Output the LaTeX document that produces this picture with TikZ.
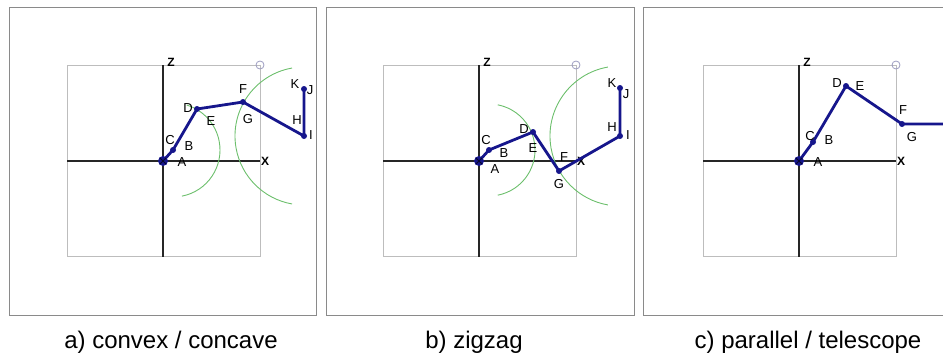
\documentclass[tikz,border=0pt]{standalone}
\usepackage{fontspec}
\setmainfont{Liberation Sans}
\usetikzlibrary{calc}
\definecolor{armblue}{HTML}{16168C}
\definecolor{reachgreen}{HTML}{6CBF6C}
\definecolor{boxgray}{HTML}{BDBDBD}
\definecolor{framegray}{HTML}{8A8A8A}
\definecolor{handlegray}{HTML}{9C9CC0}

\begin{document}
\begin{tikzpicture}[x=1pt,y=-1pt,
  panel/.style={draw=framegray,line width=1pt},
  workspace/.style={draw=boxgray,line width=0.9pt},
  axis/.style={draw=black!85,line width=1.3pt},
  link/.style={draw=armblue,line width=2.8pt,line join=round},
  joint/.style={fill=armblue},
  reach/.style={draw=reachgreen,line width=0.9pt},
  lbl/.style={font=\fontsize{13}{15}\selectfont,inner sep=0pt},
  axlbl/.style={font=\bfseries\fontsize{12}{14}\selectfont,inner sep=0pt},
  caption/.style={font=\fontsize{24}{28}\selectfont,inner sep=0pt}]
  \useasboundingbox (0,0) rectangle (943,356);
  \clip (0,0) rectangle (943,356);

  % Outer panels; the third one runs off the right edge.
  \draw[panel] (9,7) rectangle (316,315);
  \draw[panel] (326,7) rectangle (634,315);
  \draw[panel] (643,7) rectangle (970,315);

  % Workspace square, axes and corner handle, shared by all three panels.
  \foreach \ox/\p in {163/a,479/b,799/c} {
    \draw[workspace] (\ox-96,65) rectangle (\ox+97,256);
    \draw[axis] (\ox-96,161) -- (\ox+97,161);
    \draw[axis] (\ox,65) -- (\ox,257);
    \draw[handlegray,line width=0.8pt] (\ox+97,65) circle (4);
    \node[axlbl] (\p Z) at (\ox+8,62) {Z};
    \node[axlbl] (\p X) at (\ox+102,161) {X};
  }

  % a) convex / concave
  \coordinate (aA) at (163,161);
  \coordinate (aC) at (173,150);
  \coordinate (aD) at (197,109);
  \coordinate (aF) at (243,102);
  \coordinate (aI) at (304,136);
  \coordinate (aJ) at (304,89);
  \draw[reach] ($(aC)+(79:47)$) arc[start angle=79,end angle=-73,radius=47];
  \draw[reach] ($(aI)+(-100:69)$) arc[start angle=-100,end angle=-260,radius=69];
  \draw[link] (aA) -- (aC) -- (aD) -- (aF) -- (aI) -- (aJ);
  \foreach \j in {aC,aD,aF,aI,aJ} \fill[joint] (\j) circle (3);
  \fill[armblue] (aA) circle (5);
  \draw[black!70!armblue,line width=0.8pt] ($(aA)+(-3,-3)$) -- ($(aA)+(3,3)$)
    ($(aA)+(-3,3)$) -- ($(aA)+(3,-3)$);
  \node[lbl] (alA) at (182,162) {A};
  \node[lbl] (alB) at (189,146) {B};
  \node[lbl] (alC) at (170,140) {C};
  \node[lbl] (alD) at (188,108) {D};
  \node[lbl] (alE) at (211,121) {E};
  \node[lbl] (alF) at (243,89) {F};
  \node[lbl] (alG) at (248,119) {G};
  \node[lbl] (alH) at (297,120) {H};
  \node[lbl] (alI) at (311,135) {I};
  \node[lbl] (alK) at (295,84) {K};
  \node[lbl] (alJ) at (310,90) {J};

  % b) zigzag
  \coordinate (bA) at (479,161);
  \coordinate (bC) at (489,150);
  \coordinate (bD) at (533,132);
  \coordinate (bG) at (559,171);
  \coordinate (bI) at (620,136);
  \coordinate (bJ) at (620,88);
  \draw[reach] ($(bC)+(79:46)$) arc[start angle=79,end angle=-79,radius=46];
  \draw[reach] ($(bI)+(-100:70)$) arc[start angle=-100,end angle=-260,radius=70];
  \draw[link] (bA) -- (bC) -- (bD) -- (bG) -- (bI) -- (bJ);
  \foreach \j in {bC,bD,bG,bI,bJ} \fill[joint] (\j) circle (3);
  \fill[armblue] (bA) circle (5);
  \draw[black!70!armblue,line width=0.8pt] ($(bA)+(-3,-3)$) -- ($(bA)+(3,3)$)
    ($(bA)+(-3,3)$) -- ($(bA)+(3,-3)$);
  \node[lbl] (blA) at (495,169) {A};
  \node[lbl] (blB) at (504,153) {B};
  \node[lbl] (blC) at (486,140) {C};
  \node[lbl] (blD) at (524,129) {D};
  \node[lbl] (blE) at (533,148) {E};
  \node[lbl] (blF) at (564,157) {F};
  \node[lbl] (blG) at (559,184) {G};
  \node[lbl] (blH) at (612,127) {H};
  \node[lbl] (blI) at (628,135) {I};
  \node[lbl] (blK) at (612,83) {K};
  \node[lbl] (blJ) at (626,94) {J};

  % c) parallel / telescope
  \coordinate (cA) at (799,161);
  \coordinate (cC) at (813,142);
  \coordinate (cD) at (846,86);
  \coordinate (cG) at (902,124);
  \coordinate (cEnd) at (960,124);
  \draw[link] (cA) -- (cC) -- (cD) -- (cG) -- (cEnd);
  \foreach \j in {cC,cD,cG} \fill[joint] (\j) circle (3);
  \fill[armblue] (cA) circle (5);
  \draw[black!70!armblue,line width=0.8pt] ($(cA)+(-3,-3)$) -- ($(cA)+(3,3)$)
    ($(cA)+(-3,3)$) -- ($(cA)+(3,-3)$);
  \node[lbl] (clA) at (818,162) {A};
  \node[lbl] (clB) at (829,140) {B};
  \node[lbl] (clC) at (810,136) {C};
  \node[lbl] (clD) at (837,83) {D};
  \node[lbl] (clE) at (860,86) {E};
  \node[lbl] (clF) at (903,110) {F};
  \node[lbl] (clG) at (912,137) {G};

  % Captions under the panels.
  \node[caption] (capA) at (171,342) {a) convex / concave};
  \node[caption] (capB) at (474,342) {b) zigzag};
  \node[caption] (capC) at (808,342) {c) parallel / telescope};
\end{tikzpicture}
\end{document}
